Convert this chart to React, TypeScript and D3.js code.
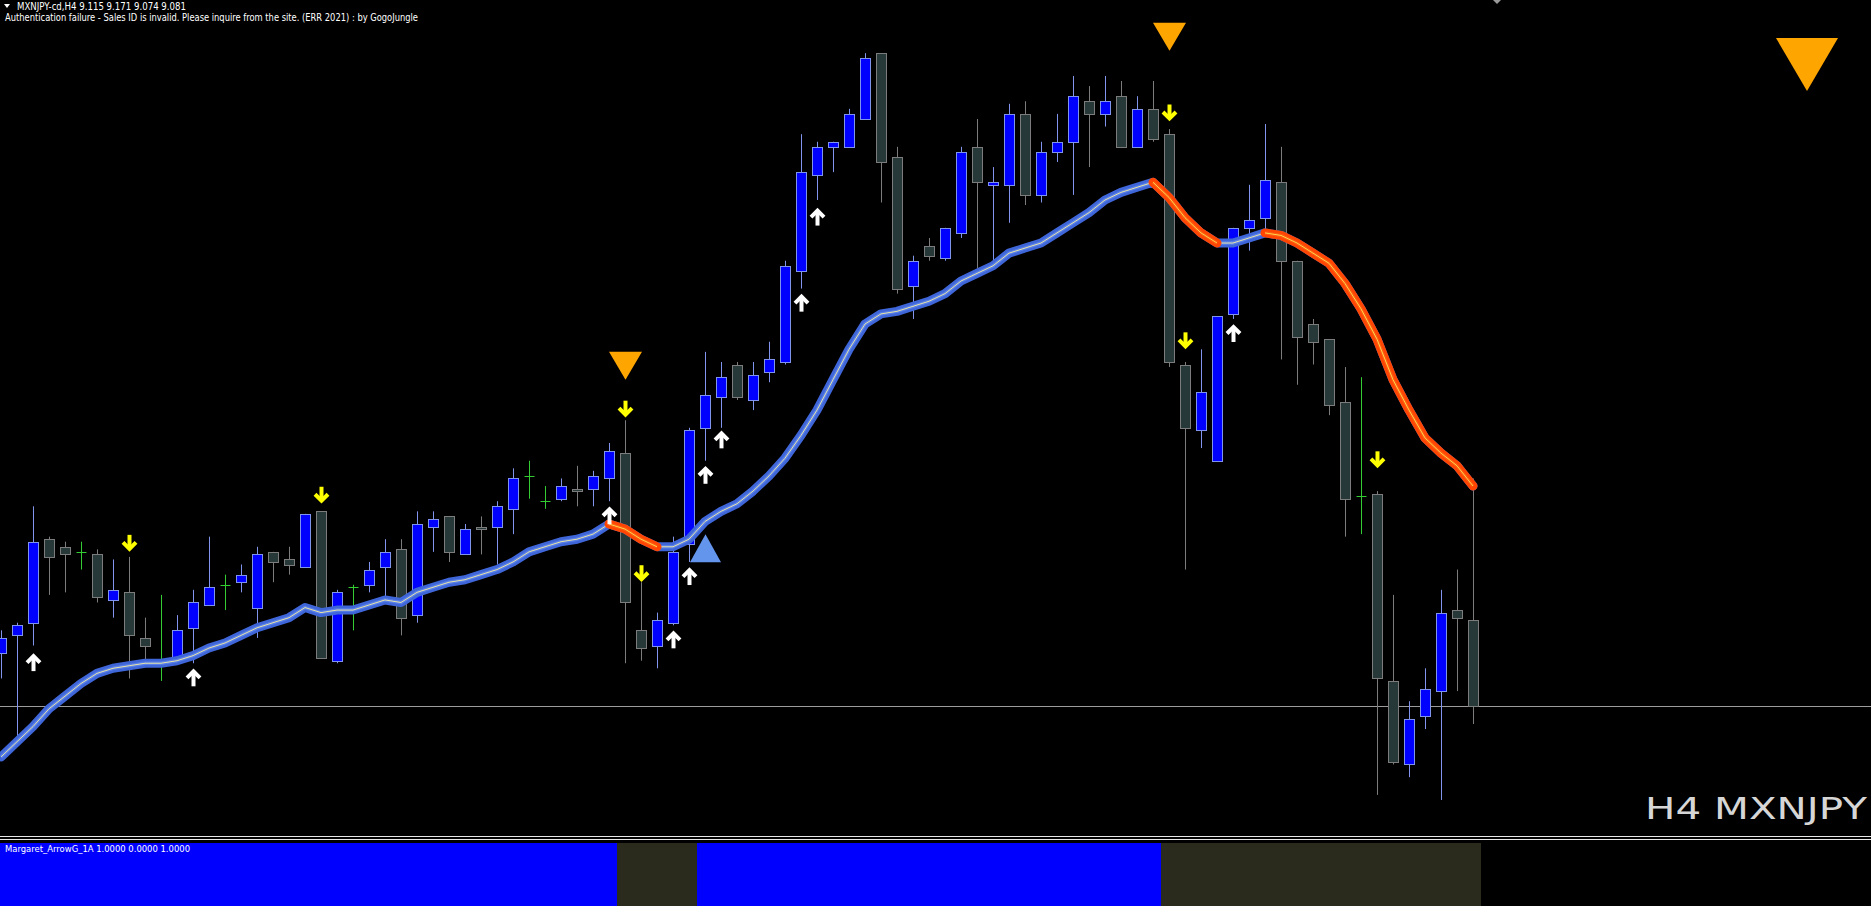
import React from 'react';
import * as d3 from 'd3';

// ---- Header quote ----
const symbolLabel = 'MXNJPY-cd,H4';
const quote = [9.115, 9.171, 9.074, 9.081]; // O H L C of last bar
const authMessage = 'Authentication failure - Sales ID is invalid. Please inquire from the site. (ERR 2021) : by GogoJungle';
const indicatorLabel = 'Margaret_ArrowG_1A 1.0000 0.0000 1.0000';
const cornerLabel = 'H4 MXNJPY';

// ---- Candles (H4 MXNJPY) ----
const opens = [
  9.102, 9.109, 9.114, 9.147, 9.144, 9.142, 9.141, 9.123, 9.126, 9.108,
  9.099, 9.100, 9.112, 9.121, 9.129, 9.130, 9.120, 9.142, 9.139, 9.136,
  9.158, 9.099, 9.128, 9.129, 9.136, 9.143, 9.117, 9.152, 9.156, 9.141,
  9.152, 9.152, 9.159, 9.172, 9.162, 9.163, 9.167, 9.167, 9.171, 9.181,
  9.111, 9.105, 9.114, 9.145, 9.191, 9.203, 9.216, 9.202, 9.213, 9.217,
  9.253, 9.291, 9.302, 9.302, 9.313, 9.339, 9.298, 9.247, 9.263, 9.258,
  9.268, 9.302, 9.287, 9.287, 9.315, 9.283, 9.300, 9.304, 9.320, 9.315,
  9.322, 9.302, 9.317, 9.307, 9.216, 9.190, 9.178, 9.236, 9.270, 9.274,
  9.288, 9.257, 9.232, 9.226, 9.201, 9.164, 9.165, 9.091, 9.058, 9.077,
  9.087, 9.119, 9.115,
];
const highs = [
  9.111, 9.114, 9.160, 9.148, 9.146, 9.146, 9.143, 9.139, 9.140, 9.116,
  9.125, 9.117, 9.127, 9.148, 9.133, 9.137, 9.144, 9.142, 9.144, 9.157,
  9.158, 9.127, 9.129, 9.138, 9.147, 9.147, 9.158, 9.158, 9.156, 9.153,
  9.156, 9.162, 9.175, 9.178, 9.168, 9.171, 9.176, 9.174, 9.185, 9.194,
  9.130, 9.118, 9.148, 9.191, 9.221, 9.217, 9.217, 9.217, 9.225, 9.257,
  9.307, 9.304, 9.304, 9.317, 9.339, 9.339, 9.302, 9.259, 9.266, 9.270,
  9.302, 9.313, 9.294, 9.319, 9.320, 9.304, 9.315, 9.330, 9.326, 9.330,
  9.328, 9.322, 9.328, 9.309, 9.217, 9.222, 9.235, 9.270, 9.287, 9.311,
  9.302, 9.257, 9.234, 9.226, 9.215, 9.211, 9.166, 9.125, 9.083, 9.096,
  9.127, 9.135, 9.171,
];
const lows = [
  9.092, 9.068, 9.105, 9.125, 9.126, 9.135, 9.122, 9.116, 9.092, 9.099,
  9.091, 9.099, 9.098, 9.121, 9.119, 9.126, 9.108, 9.130, 9.133, 9.136,
  9.100, 9.098, 9.111, 9.126, 9.124, 9.109, 9.114, 9.142, 9.138, 9.141,
  9.141, 9.137, 9.149, 9.163, 9.159, 9.162, 9.160, 9.160, 9.162, 9.098,
  9.099, 9.096, 9.113, 9.138, 9.178, 9.191, 9.202, 9.198, 9.209, 9.216,
  9.246, 9.281, 9.292, 9.302, 9.313, 9.280, 9.244, 9.234, 9.257, 9.257,
  9.266, 9.254, 9.257, 9.272, 9.279, 9.280, 9.296, 9.283, 9.294, 9.310,
  9.302, 9.302, 9.304, 9.215, 9.135, 9.183, 9.178, 9.234, 9.261, 9.269,
  9.218, 9.208, 9.216, 9.196, 9.148, 9.149, 9.046, 9.058, 9.053, 9.072,
  9.044, 9.087, 9.074,
];
const closes = [
  9.108, 9.113, 9.146, 9.140, 9.141, 9.142, 9.124, 9.127, 9.109, 9.105,
  9.099, 9.111, 9.122, 9.128, 9.129, 9.133, 9.141, 9.138, 9.137, 9.157,
  9.100, 9.126, 9.128, 9.135, 9.142, 9.116, 9.153, 9.155, 9.142, 9.151,
  9.151, 9.160, 9.171, 9.172, 9.162, 9.168, 9.166, 9.172, 9.182, 9.122,
  9.104, 9.115, 9.142, 9.190, 9.204, 9.211, 9.203, 9.212, 9.218, 9.255,
  9.292, 9.302, 9.304, 9.315, 9.337, 9.296, 9.246, 9.257, 9.259, 9.270,
  9.300, 9.288, 9.288, 9.315, 9.283, 9.300, 9.304, 9.322, 9.315, 9.320,
  9.302, 9.317, 9.305, 9.217, 9.191, 9.205, 9.235, 9.270, 9.273, 9.289,
  9.257, 9.227, 9.225, 9.200, 9.163, 9.164, 9.092, 9.059, 9.076, 9.088,
  9.118, 9.116, 9.081,
];

// ---- Moving average line ----
const maValues = [
  9.061, 9.067, 9.073, 9.080, 9.085, 9.090, 9.094, 9.096, 9.097, 9.098,
  9.098, 9.099, 9.101, 9.104, 9.106, 9.109, 9.112, 9.114, 9.116, 9.120,
  9.118, 9.119, 9.119, 9.121, 9.123, 9.122, 9.126, 9.128, 9.130, 9.131,
  9.133, 9.135, 9.138, 9.142, 9.144, 9.146, 9.147, 9.149, 9.153, 9.151,
  9.147, 9.144, 9.144, 9.147, 9.154, 9.158, 9.161, 9.166, 9.172, 9.179,
  9.188, 9.198, 9.210, 9.222, 9.232, 9.236, 9.237, 9.239, 9.241, 9.244,
  9.249, 9.252, 9.255, 9.260, 9.262, 9.264, 9.268, 9.272, 9.276, 9.281,
  9.284, 9.286, 9.288, 9.282, 9.274, 9.268, 9.264, 9.264, 9.266, 9.268,
  9.267, 9.264, 9.260, 9.256, 9.248, 9.238, 9.226, 9.210, 9.198, 9.187,
  9.181, 9.176, 9.168,
];
// bar ranges where the MA is in its falling (orange) state
const maDownRuns = [[38, 41], [72, 76], [79, 92]];

// ---- Signal arrows ----
const upArrowBars = [2, 12, 38, 42, 43, 44, 45, 50, 51, 77];
const upArrowPrices = [9.102, 9.096, 9.160, 9.111, 9.136, 9.176, 9.190, 9.244, 9.278, 9.232];
const downArrowBars = [8, 20, 39, 40, 73, 74, 86];
const downArrowPrices = [9.142, 9.161, 9.195, 9.130, 9.312, 9.222, 9.175];
const sellTriangleBars = [39, 73];
const sellTrianglePrices = [9.210, 9.340];
const buyTriangleBars = [44];
const buyTrianglePrices = [9.149];

// ---- Sub-window histogram: runs of [state, bar count] ----
const indicatorRuns: [string, number][] = [['up', 39], ['down', 5], ['up', 29], ['down', 20]];

const W = 1871;
const H = 906;

const BULL_FILL = '#0000ff';
const BULL_LINE = '#8094ec';
const BEAR_FILL = '#263838';
const BEAR_LINE = '#7c7c7c';
const DOJI = '#33cc33';

function UpArrow({ cx, ty }: { cx: number; ty: number }) {
  return (
    <g transform={`translate(${cx},${ty})`}>
      <path d="M-6.5,9.5 L0,3 L6.5,9.5" fill="none" stroke="#ffffff" strokeWidth={4} strokeLinejoin="miter" />
      <line x1={0} y1={4} x2={0} y2={18} stroke="#ffffff" strokeWidth={4} />
    </g>
  );
}

function DownArrow({ cx, by }: { cx: number; by: number }) {
  return (
    <g transform={`translate(${cx},${by}) scale(1,-1)`}>
      <path d="M-6.5,9.5 L0,3 L6.5,9.5" fill="none" stroke="#ffff00" strokeWidth={4} strokeLinejoin="miter" />
      <line x1={0} y1={4} x2={0} y2={17} stroke="#ffff00" strokeWidth={4} />
    </g>
  );
}

export default function App() {
  const n = opens.length;
  const x = d3.scaleLinear().domain([0, n - 1]).range([1, 1 + 16 * (n - 1)]);
  const y = d3.scaleLinear().domain([9.0021, 9.36]).range([H, 0]);
  const bodyHalf = 5;

  const maLine = d3
    .line<number>()
    .x((i) => x(i))
    .y((i) => y(maValues[i]));
  const allIdx = d3.range(n);

  const indStates: string[] = [];
  indicatorRuns.forEach(([s, c]) => {
    for (let k = 0; k < c; k++) indStates.push(s);
  });

  const paneTop = 843;

  return (
    <div style={{ width: W, height: H, background: '#000', overflow: 'hidden' }}>
      <style>{`html,body{margin:0;padding:0;background:#000;}`}</style>
      <svg width={W} height={H} style={{ display: 'block', background: '#000' }}>
        <rect x={0} y={0} width={W} height={H} fill="#000" />

        {/* current price line */}
        <line x1={0} x2={W} y1={Math.round(y(quote[3])) + 0.5} y2={Math.round(y(quote[3])) + 0.5} stroke="#9c9c9c" strokeWidth={1} />

        {/* candles */}
        {allIdx.map((i) => {
          const cx = Math.round(x(i)) + 0.5;
          const o = opens[i];
          const c = closes[i];
          const yh = y(highs[i]);
          const yl = y(lows[i]);
          if (o === c) {
            const yo = y(o);
            return (
              <g key={i}>
                <line x1={cx} x2={cx} y1={yh} y2={yl} stroke={DOJI} strokeWidth={1} />
                <line x1={cx - bodyHalf} x2={cx + bodyHalf} y1={Math.round(yo) + 0.5} y2={Math.round(yo) + 0.5} stroke={DOJI} strokeWidth={1} />
              </g>
            );
          }
          const bull = c > o;
          const top = Math.round(y(Math.max(o, c))) + 0.5;
          const bot = Math.round(y(Math.min(o, c))) + 0.5;
          return (
            <g key={i}>
              <line x1={cx} x2={cx} y1={yh} y2={yl} stroke={bull ? BULL_LINE : BEAR_LINE} strokeWidth={1} />
              <rect
                x={cx - bodyHalf}
                y={top}
                width={bodyHalf * 2}
                height={Math.max(1, bot - top)}
                fill={bull ? BULL_FILL : BEAR_FILL}
                stroke={bull ? BULL_LINE : BEAR_LINE}
                strokeWidth={1}
              />
            </g>
          );
        })}

        {/* moving average: rising state */}
        <path d={maLine(allIdx) || ''} fill="none" stroke="#3f66d8" strokeWidth={9} strokeLinejoin="round" strokeLinecap="round" />
        <path d={maLine(allIdx) || ''} fill="none" stroke="#5a80e8" strokeWidth={3.5} strokeLinejoin="round" />
        <path d={maLine(allIdx) || ''} fill="none" stroke="#e6e4aa" strokeWidth={1} strokeLinejoin="round" />
        {/* moving average: falling state */}
        {maDownRuns.map(([a, b], k) => {
          const idx = d3.range(a, b + 1);
          const d = maLine(idx) || '';
          return (
            <g key={k}>
              <path d={d} fill="none" stroke="#ff4500" strokeWidth={9} strokeLinejoin="round" strokeLinecap="round" />
              <path d={d} fill="none" stroke="#ff5a12" strokeWidth={3.5} strokeLinejoin="round" />
              <path d={d} fill="none" stroke="#ffd84a" strokeWidth={1} strokeLinejoin="round" />
            </g>
          );
        })}

        {/* arrows */}
        {upArrowBars.map((b, k) => (
          <UpArrow key={'u' + k} cx={Math.round(x(b)) + 0.5} ty={y(upArrowPrices[k])} />
        ))}
        {downArrowBars.map((b, k) => (
          <DownArrow key={'d' + k} cx={Math.round(x(b)) + 0.5} by={y(downArrowPrices[k])} />
        ))}

        {/* triangles */}
        {sellTriangleBars.map((b, k) => {
          const cx = x(b) + 0.5;
          const ty = y(sellTrianglePrices[k]);
          return <polygon key={'s' + k} points={`${cx - 16.5},${ty - 28} ${cx + 16.5},${ty - 28} ${cx},${ty}`} fill="#ffa500" />;
        })}
        {buyTriangleBars.map((b, k) => {
          const cx = x(b) + 0.5;
          const ty = y(buyTrianglePrices[k]);
          return <polygon key={'b' + k} points={`${cx},${ty} ${cx - 15.5},${ty + 28} ${cx + 15.5},${ty + 28}`} fill="#6495ed" />;
        })}

        {/* corner signal triangle */}
        <polygon points="1776,38 1838,38 1807,91" fill="#ffa500" />
        {/* shift marker */}
        <polygon points="1493,0 1501,0 1497,4" fill="#9a9a9a" />

        {/* header */}
        <polygon points="4,4 10,4 7,8" fill="#ffffff" />
        <text x={17} y={10} fill="#ffffff" fontFamily="Tahoma, 'DejaVu Sans', sans-serif" fontSize={10} textLength={169} lengthAdjust="spacingAndGlyphs">
          {`${symbolLabel}  ${quote.map((v) => v.toFixed(3)).join(' ')}`}
        </text>
        <text x={5} y={21} fill="#ffffff" fontFamily="Tahoma, 'DejaVu Sans', sans-serif" fontSize={10} textLength={413} lengthAdjust="spacingAndGlyphs">
          {authMessage}
        </text>

        {/* corner label */}
        <text x={1867} y={819} fill="#d6d6d6" fontFamily="'DejaVu Sans', Verdana, sans-serif" fontSize={30} textAnchor="end" textLength={222} lengthAdjust="spacingAndGlyphs">
          {cornerLabel}
        </text>

        {/* separator */}
        <line x1={0} x2={W} y1={836.5} y2={836.5} stroke="#e6e6e6" strokeWidth={1} />
        <line x1={0} x2={W} y1={839.5} y2={839.5} stroke="#e6e6e6" strokeWidth={1} />

        {/* sub-window histogram */}
        {indStates.map((s, i) => (
          <rect
            key={'h' + i}
            x={Math.round(x(i)) - 8}
            y={paneTop}
            width={16}
            height={H - paneTop}
            fill={s === 'up' ? '#0000ff' : '#2b2b1d'}
          />
        ))}
        <text x={5} y={852} fill="#ffffff" fontFamily="Tahoma, 'DejaVu Sans', sans-serif" fontSize={9} textLength={185} lengthAdjust="spacingAndGlyphs">
          {indicatorLabel}
        </text>
      </svg>
    </div>
  );
}
